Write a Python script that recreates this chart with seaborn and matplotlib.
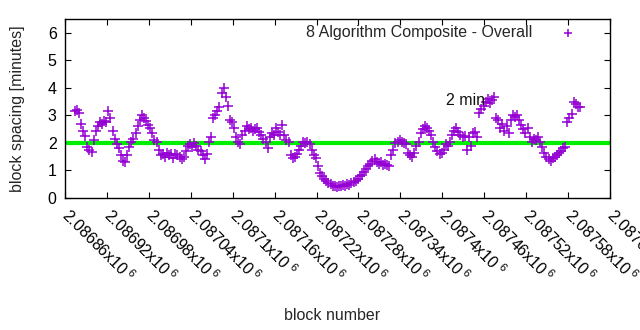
import numpy as np
import pandas as pd
import matplotlib
matplotlib.use("Agg")
import matplotlib.pyplot as plt
import seaborn as sns

# ---- data ----
first_block = 2086874
block_step = 3
spacing_minutes = [
    3.15, 3.2, 3.1, 2.7, 2.45, 2.25, 1.85, 1.75, 1.68, 2.1,
    2.45, 2.6, 2.75, 2.7, 2.8, 2.75, 3.15, 2.9, 2.45, 2.15,
    1.95, 1.8, 1.55, 1.35, 1.3, 1.55, 1.85, 2.05, 2.15, 2.35,
    2.6, 2.85, 3.0, 2.9, 2.8, 2.65, 2.55, 2.35, 2.1, 2.05,
    1.75, 1.55, 1.6, 1.5, 1.65, 1.55, 1.6, 1.45, 1.6, 1.55,
    1.5, 1.4, 1.5, 1.7, 1.9, 1.95, 1.85, 2.0, 1.9, 1.75,
    1.7, 1.55, 1.4, 1.6, 2.05, 2.2, 2.9, 3.0, 3.15, 3.3,
    3.8, 4.0, 3.65, 3.35, 2.85, 2.75, 2.55, 2.2, 2.05, 1.95,
    2.3, 2.45, 2.6, 2.5, 2.55, 2.45, 2.5, 2.55, 2.4, 2.3,
    2.15, 2.05, 1.8, 2.2, 2.35, 2.3, 2.55, 2.4, 2.3, 2.65,
    2.3, 2.1, 2.05, 1.55, 1.45, 1.5, 1.6, 1.75, 1.9, 2.05,
    2.0, 2.05, 1.95, 1.75, 1.55, 1.45, 1.15, 0.9, 0.8, 0.7,
    0.62, 0.55, 0.5, 0.45, 0.42, 0.4, 0.45, 0.42, 0.48, 0.45,
    0.5, 0.48, 0.55, 0.58, 0.62, 0.7, 0.8, 0.85, 0.95, 1.05,
    1.15, 1.25, 1.35, 1.4, 1.3, 1.25, 1.3, 1.2, 1.25, 1.2,
    1.15, 1.55, 1.75, 2.0, 2.05, 2.1, 2.05, 2.0, 1.95, 1.65,
    1.55, 1.5, 1.65, 1.9, 2.05, 2.35, 2.5, 2.6, 2.55, 2.45,
    2.3, 2.05, 1.85, 1.7, 1.6, 1.65, 1.75, 1.95, 1.9, 2.05,
    2.3, 2.45, 2.55, 2.4, 2.3, 2.2, 2.25, 1.75, 2.2, 1.9,
    2.35, 2.4, 2.2, 3.1, 3.25, 3.35, 3.5, 3.6, 3.45, 3.55,
    3.65, 2.9, 2.85, 2.55, 2.7, 2.45, 2.6, 2.35, 2.85, 3.0,
    2.95, 3.0, 2.85, 2.65, 2.5, 2.35, 2.55, 2.2, 2.05, 2.15,
    2.1, 2.2, 2.05, 1.85, 1.65, 1.5, 1.4, 1.35, 1.45, 1.5,
    1.55, 1.65, 1.7, 1.8, 1.85, 2.75, 2.9, 3.05, 3.5, 3.4,
    3.3, 3.3,
]
block_numbers = [first_block + block_step * i for i in range(len(spacing_minutes))]

target_minutes = 2
x_ticks = [2086860, 2086920, 2086980, 2087040, 2087100, 2087160, 2087220,
           2087280, 2087340, 2087400, 2087460, 2087520, 2087580, 2087640]
x_tick_labels = ["2.08686", "2.08692", "2.08698", "2.08704", "2.0871", "2.08716",
                 "2.08722", "2.08728", "2.08734", "2.0874", "2.08746", "2.08752",
                 "2.08758", "2.08764"]
y_ticks = [0, 1, 2, 3, 4, 5, 6]
series_label = "8 Algorithm Composite - Overall"
target_label = "2 min"

df = pd.DataFrame({"block": block_numbers, "spacing": spacing_minutes})

# ---- style ----
sns.set_theme(style="ticks")
plt.rcParams["font.family"] = ["Liberation Sans", "DejaVu Sans"]
plt.rcParams["font.size"] = 11.5
plt.rcParams["mathtext.fontset"] = "custom"
plt.rcParams["mathtext.rm"] = "Liberation Sans"
plt.rcParams["mathtext.it"] = "Liberation Sans"

FS = 11.5
fig = plt.figure(figsize=(6.4, 3.3), dpi=100)
ax = fig.add_axes([65 / 640, 1 - 198 / 330, 545 / 640, 179 / 330])

purple = "#9400d3"
green = "#00ee00"

ax.axhline(target_minutes, color=green, lw=3, zorder=1)
sns.scatterplot(data=df, x="block", y="spacing", marker="+", s=42,
                color=purple, linewidth=1.1, ax=ax, label=series_label, zorder=2)

ax.set_xlim(2086860, 2087640)
ax.set_ylim(0, 6.5)
ax.set_xticks(x_ticks)
ax.set_xticklabels([t + r"x10$^{\ 6}$" for t in x_tick_labels],
                   rotation=-45, ha="left", va="center", rotation_mode="anchor",
                   fontsize=FS)
ax.set_yticks(y_ticks)
ax.set_yticklabels([str(v) for v in y_ticks], fontsize=FS)
ax.tick_params(direction="in", top=True, right=True, length=4, width=0.8,
               colors="black", pad=6)
ax.tick_params(axis="x", pad=10)
for sp in ax.spines.values():
    sp.set_visible(True)
    sp.set_color("black")
    sp.set_linewidth(1.0)

ax.set_xlabel("block number", fontsize=FS, va="top")
ax.xaxis.set_label_coords(0.49, -0.615)
ax.set_ylabel("block spacing [minutes]", fontsize=FS, labelpad=16)

ax.text(2087406, 3.53, target_label, fontsize=FS, ha="left", va="center",
        color="#111111")

ax.legend(loc="upper right", bbox_to_anchor=(0.972, 1.028), frameon=False,
          markerfirst=False, handletextpad=1.2, borderaxespad=0.3,
          fontsize=FS, markerscale=0.8)

fig.savefig("out.png", dpi=100)
